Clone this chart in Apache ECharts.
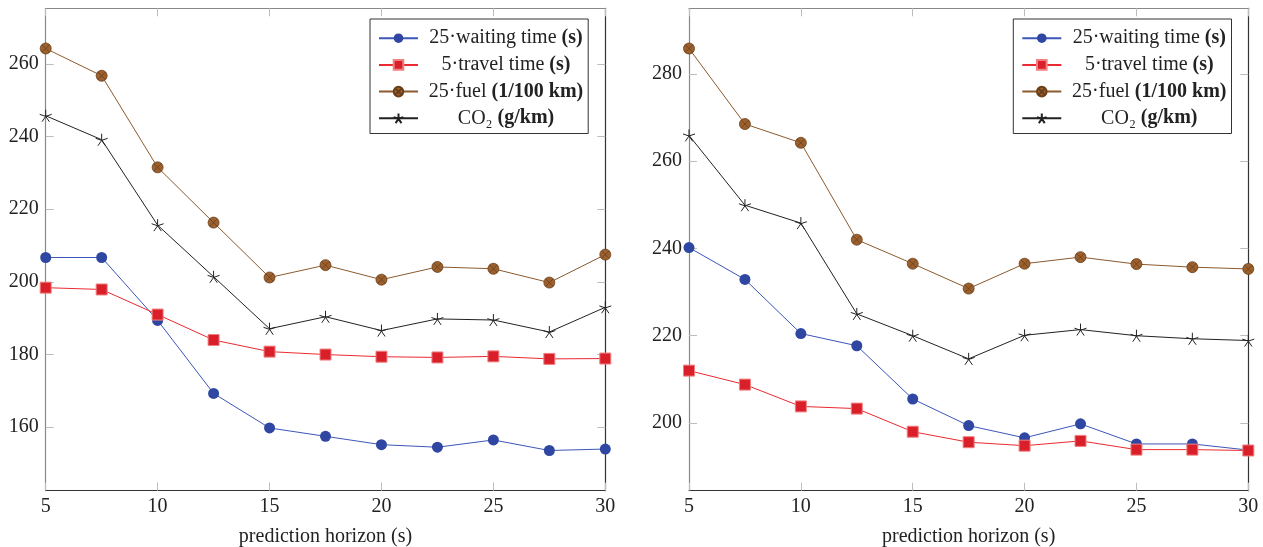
<!DOCTYPE html>
<html>
<head>
<meta charset="utf-8">
<script src="https://cdn.jsdelivr.net/npm/echarts@6/dist/echarts.min.js"></script>
<style>
  html, body { margin: 0; padding: 0; background: #fff; }
  #main { width: 1263px; height: 547px; }
</style>
</head>
<body>
<div id="main"></div>
<script>
// prediction horizon (s)
const xValues = [5, 7.5, 10, 12.5, 15, 17.5, 20, 22.5, 25, 27.5, 30];
const xTicks = [5, 10, 15, 20, 25, 30];

// left plot
const leftWaiting = [206.7, 206.7, 189.4, 169.3, 159.8, 157.5, 155.2, 154.5, 156.5, 153.6, 154.0];
const leftTravel = [198.4, 197.9, 191.0, 184.0, 180.8, 180.0, 179.4, 179.2, 179.5, 178.8, 178.9];
const leftFuel = [264.2, 256.7, 231.5, 216.3, 201.2, 204.6, 200.6, 204.1, 203.6, 199.8, 207.5];
const leftCO2 = [245.7, 239.1, 215.6, 201.4, 187.1, 190.4, 186.6, 189.8, 189.5, 186.2, 193.0];
const leftYTicks = [160, 180, 200, 220, 240, 260];

// right plot
const rightWaiting = [240.2, 232.9, 220.5, 217.7, 205.5, 199.4, 196.6, 199.8, 195.2, 195.2, 193.8];
const rightTravel = [212.0, 208.8, 203.8, 203.3, 198.0, 195.6, 194.8, 195.9, 193.9, 193.9, 193.7];
const rightFuel = [285.8, 268.5, 264.2, 242.0, 236.5, 230.8, 236.5, 238.0, 236.4, 235.7, 235.3];
const rightCO2 = [265.9, 249.9, 245.8, 225.0, 220.0, 214.7, 220.1, 221.4, 220.0, 219.3, 218.9];
const rightYTicks = [200, 220, 240, 260, 280];

const seriesNames = ['25·waiting time (s)', '5·travel time (s)', '25·fuel (1/100 km)', 'CO₂ (g/km)'];
const legendParts = [
  ['25·waiting time ', '(s)'],
  ['5·travel time ', '(s)'],
  ['25·fuel ', '(1/100 km)'],
  ['CO₂ ', '(g/km)']
];

const FONT = '"Liberation Serif", "DejaVu Serif", serif';
const FS = 20;

const starPath = 'path://M0,0L0,-1M0,0L0.951,-0.309M0,0L0.588,0.809M0,0L-0.588,0.809M0,0L-0.951,-0.309';
const otimesPath = 'path://M1,0A1,1 0 1 1 -1,0A1,1 0 1 1 1,0ZM-0.707,-0.707L0.707,0.707M-0.707,0.707L0.707,-0.707';

const styles = [
  { symbol: 'circle', symbolSize: 11, line: '#3d56b8', fill: '#2f47a2', border: '#2f47a2', bw: 0 },
  { symbol: 'rect', symbolSize: 11, line: '#ea2a30', fill: '#d81f2a', border: '#f28080', bw: 1 },
  { symbol: otimesPath, symbolSize: 11, line: '#8c5a2e', fill: '#9b602d', border: '#6a3f1a', bw: 0.8 },
  { symbol: starPath, symbolSize: 12, line: '#222', fill: '#222', border: '#222', bw: 1 }
];

// pgfplots-like 10% enlargement of y limits
function yRange(arrs) {
  const all = [].concat(...arrs);
  const lo = Math.min(...all), hi = Math.max(...all);
  const pad = (hi - lo) * 0.1;
  return [lo - pad, hi + pad];
}

// centre legend texts in a fixed column
const ctx = document.createElement('canvas').getContext('2d');
function textW(s, weight) {
  ctx.font = weight + ' ' + FS + 'px ' + FONT;
  return ctx.measureText(s).width;
}
const colW = 166;
const rich = {
  n: { fontFamily: FONT, fontSize: FS, color: '#222', lineHeight: 20 },
  u: { fontFamily: FONT, fontSize: FS, color: '#222', fontWeight: 'bold', lineHeight: 20 }
};
legendParts.forEach((p, i) => {
  const w = textW(p[0], 'normal') + textW(p[1], 'bold');
  rich['p' + i] = { width: Math.max(0, (colW - w) / 2), lineHeight: 20 };
});

function makeLegend(left) {
  return {
    left: left, top: 19,
    orient: 'vertical',
    data: seriesNames,
    itemWidth: 39, itemHeight: 12, itemGap: 6.7,
    padding: [9.2, 5, 5.2, 8],
    borderColor: '#333', borderWidth: 1,
    selectedMode: false,
    textStyle: { fontFamily: FONT, fontSize: FS, color: '#222', lineHeight: 20, rich: rich },
    formatter: function (name) {
      const i = seriesNames.indexOf(name);
      return '{p' + i + '| }{n|' + legendParts[i][0] + '}{u|' + legendParts[i][1] + '}';
    }
  };
}

const tickStyle = { color: '#bdbdbd', width: 1 };
const labelStyle = { fontFamily: FONT, fontSize: FS, color: '#222' };

function makeAxes(gi, yr, yTicks) {
  const xa = [
    { gridIndex: gi, type: 'value', position: 'bottom', min: 5, max: 30, interval: 5,
      name: 'prediction horizon (s)', nameLocation: 'middle', nameGap: 36,
      nameTextStyle: labelStyle,
      axisLine: { lineStyle: { color: '#333', width: 1.2 } },
      axisTick: { inside: true, length: 8, lineStyle: tickStyle },
      axisLabel: Object.assign({ margin: 6 }, labelStyle),
      splitLine: { show: false } },
    { gridIndex: gi, type: 'value', position: 'top', min: 5, max: 30, interval: 5,
      axisLine: { lineStyle: { color: '#888', width: 1.2 } },
      axisTick: { inside: true, length: 8, lineStyle: tickStyle },
      axisLabel: { show: false },
      splitLine: { show: false } }
  ];
  const ya = [
    { gridIndex: gi, type: 'value', position: 'left', min: yr[0], max: yr[1],
      axisLine: { show: true, lineStyle: { color: '#888', width: 1.2 } },
      axisTick: { show: true, inside: true, length: 8, lineStyle: tickStyle, customValues: yTicks },
      axisLabel: Object.assign({ margin: 7, customValues: yTicks }, labelStyle),
      splitLine: { show: false } },
    { gridIndex: gi, type: 'value', position: 'right', min: yr[0], max: yr[1],
      axisLine: { show: true, lineStyle: { color: '#333', width: 1.2 } },
      axisTick: { show: true, inside: true, length: 8, lineStyle: tickStyle, customValues: yTicks },
      axisLabel: { show: false, customValues: yTicks },
      splitLine: { show: false } }
  ];
  return { xa, ya };
}

function makeSeries(gi, arrs) {
  return arrs.map((arr, k) => ({
    name: seriesNames[k],
    type: 'line',
    xAxisIndex: gi * 2,
    yAxisIndex: gi * 2,
    data: xValues.map((x, j) => [x, arr[j]]),
    symbol: styles[k].symbol,
    symbolSize: styles[k].symbolSize,
    showAllSymbol: true,
    lineStyle: { color: styles[k].line, width: 1 },
    itemStyle: { color: styles[k].fill, borderColor: styles[k].border, borderWidth: styles[k].bw },
    emphasis: { disabled: true },
    z: 2 + k
  }));
}

const leftArrs = [leftWaiting, leftTravel, leftFuel, leftCO2];
const rightArrs = [rightWaiting, rightTravel, rightFuel, rightCO2];
const A = makeAxes(0, yRange(leftArrs), leftYTicks);
const B = makeAxes(1, yRange(rightArrs), rightYTicks);

const chart = echarts.init(document.getElementById('main'));
chart.setOption({
  animation: false,
  backgroundColor: '#fff',
  grid: [
    { left: 45.7, right: 657.7, top: 8.3, bottom: 56.3, outerBoundsMode: 'none' },
    { left: 689, right: 14.7, top: 8.3, bottom: 56.3, outerBoundsMode: 'none' }
  ],
  legend: [makeLegend(370), makeLegend(1013.3)],
  xAxis: A.xa.concat(B.xa),
  yAxis: A.ya.concat(B.ya),
  series: makeSeries(0, leftArrs).concat(makeSeries(1, rightArrs))
});
</script>
</body>
</html>
